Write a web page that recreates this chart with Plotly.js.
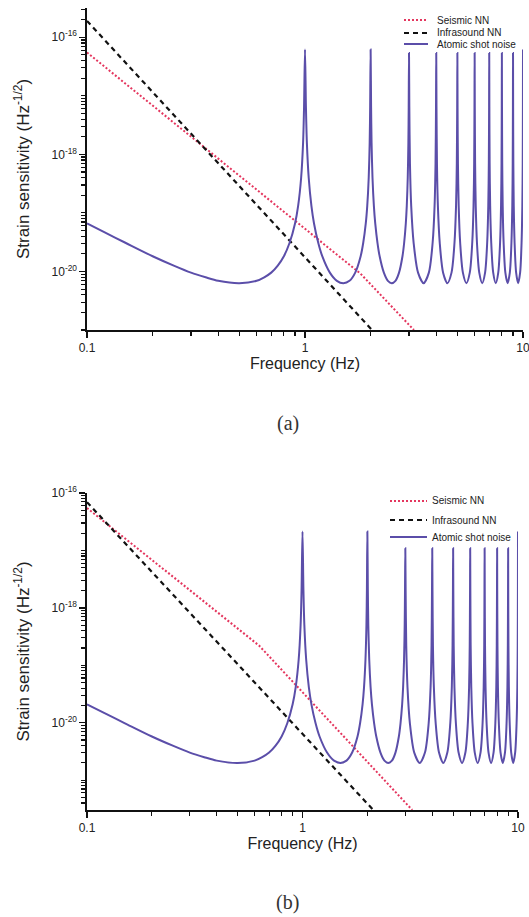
<!DOCTYPE html>
<html><head><meta charset="utf-8">
<script src="https://cdn.plot.ly/plotly-3.0.1.min.js"></script>
<style>html,body{margin:0;padding:0;background:#fff}#chart{width:529px;height:917px}</style>
</head><body><div id="chart"></div>
<script>
// ---------- data ----------
// frequency samples of the atomic shot-noise curve (Hz)
const shotFreq = [
  0.1,0.12,0.15,0.2,0.25,0.3,0.35,0.4,0.5,0.6,0.65,0.7,0.75,0.8,0.85,0.9,0.93,0.96,0.98,0.99,1,
  1.01,1.02,1.04,1.07,1.1,1.15,1.2,1.3,1.4,1.5,1.6,1.7,1.8,1.85,1.9,1.93,1.96,1.98,1.99,2,
  2.01,2.02,2.04,2.07,2.1,2.15,2.2,2.3,2.4,2.5,2.6,2.7,2.8,2.85,2.9,2.93,2.96,2.98,2.99,3,
  3.01,3.03,3.07,3.15,3.3,3.5,3.7,3.85,3.93,3.97,3.99,4,
  4.01,4.03,4.07,4.15,4.3,4.5,4.7,4.85,4.93,4.97,4.99,5,
  5.01,5.03,5.07,5.15,5.3,5.5,5.7,5.85,5.93,5.97,5.99,6,
  6.01,6.03,6.07,6.15,6.3,6.5,6.7,6.85,6.93,6.97,6.99,7,
  7.01,7.03,7.07,7.15,7.3,7.5,7.7,7.85,7.93,7.97,7.99,8,
  8.01,8.03,8.07,8.15,8.3,8.5,8.7,8.85,8.93,8.97,8.99,9,
  9.01,9.03,9.07,9.15,9.3,9.5,9.7,9.85,9.93,9.97,9.99,10
];
// panel (a) atomic shot noise, log10 of strain sensitivity
const shotA_log10 = [
  -19.18,-19.33,-19.51,-19.74,-19.90,-20.02,-20.10,-20.16,-20.20,-20.16,-20.10,-20.02,-19.90,-19.74,-19.51,-19.18,-18.88,-18.40,-17.80,-17.19,-16.21,
  -17.19,-17.80,-18.40,-18.88,-19.18,-19.51,-19.74,-20.02,-20.16,-20.20,-20.16,-20.02,-19.74,-19.51,-19.18,-18.88,-18.40,-17.80,-17.19,-16.21,
  -17.19,-17.80,-18.40,-18.88,-19.18,-19.51,-19.74,-20.02,-20.16,-20.20,-20.16,-20.02,-19.74,-19.51,-19.18,-18.88,-18.40,-17.80,-17.19,-16.27,
  -17.19,-18.15,-18.88,-19.51,-20.02,-20.20,-20.02,-19.51,-18.88,-18.15,-17.19,-16.27,
  -17.19,-18.15,-18.88,-19.51,-20.02,-20.20,-20.02,-19.51,-18.88,-18.15,-17.19,-16.27,
  -17.19,-18.15,-18.88,-19.51,-20.02,-20.20,-20.02,-19.51,-18.88,-18.15,-17.19,-16.27,
  -17.19,-18.15,-18.88,-19.51,-20.02,-20.20,-20.02,-19.51,-18.88,-18.15,-17.19,-16.27,
  -17.19,-18.15,-18.88,-19.51,-20.02,-20.20,-20.02,-19.51,-18.88,-18.15,-17.19,-16.27,
  -17.19,-18.15,-18.88,-19.51,-20.02,-20.20,-20.02,-19.51,-18.88,-18.15,-17.19,-16.27,
  -17.19,-18.15,-18.88,-19.51,-20.02,-20.20,-20.02,-19.51,-18.88,-18.15,-17.19,-16.21
];
// panel (b) atomic shot noise, log10 of strain sensitivity
const shotB_log10 = [
  -19.68,-19.83,-20.01,-20.24,-20.40,-20.52,-20.60,-20.66,-20.70,-20.66,-20.60,-20.52,-20.40,-20.24,-20.01,-19.68,-19.38,-18.90,-18.30,-17.69,-16.67,
  -17.69,-18.30,-18.90,-19.38,-19.68,-20.01,-20.24,-20.52,-20.66,-20.70,-20.66,-20.52,-20.24,-20.01,-19.68,-19.38,-18.90,-18.30,-17.69,-16.67,
  -17.69,-18.30,-18.90,-19.38,-19.68,-20.01,-20.24,-20.52,-20.66,-20.70,-20.66,-20.52,-20.24,-20.01,-19.68,-19.38,-18.90,-18.30,-17.69,-16.96,
  -17.69,-18.65,-19.38,-20.01,-20.52,-20.70,-20.52,-20.01,-19.38,-18.65,-17.69,-16.96,
  -17.69,-18.65,-19.38,-20.01,-20.52,-20.70,-20.52,-20.01,-19.38,-18.65,-17.69,-16.96,
  -17.69,-18.65,-19.38,-20.01,-20.52,-20.70,-20.52,-20.01,-19.38,-18.65,-17.69,-16.96,
  -17.69,-18.65,-19.38,-20.01,-20.52,-20.70,-20.52,-20.01,-19.38,-18.65,-17.69,-16.96,
  -17.69,-18.65,-19.38,-20.01,-20.52,-20.70,-20.52,-20.01,-19.38,-18.65,-17.69,-16.96,
  -17.69,-18.65,-19.38,-20.01,-20.52,-20.70,-20.52,-20.01,-19.38,-18.65,-17.69,-16.96,
  -17.69,-18.65,-19.38,-20.01,-20.52,-20.70,-20.52,-20.01,-19.38,-18.65,-17.69,-16.67
];
// Newtonian-noise power laws (breakpoints)
const seismicA_freq = [0.1, 1.8, 3.16];
const seismicA_log10 = [-16.26, -20.04, -21.0];
const infraA_freq = [0.1, 2.03];
const infraA_log10 = [-15.72, -21.0];
const seismicB_freq = [0.1, 0.63, 3.23];
const seismicB_log10 = [-16.26, -18.66, -21.52];
const infraB_freq = [0.1, 2.13];
const infraB_log10 = [-16.16, -21.52];

const seriesNames = ['Seismic NN', 'Infrasound NN', 'Atomic shot noise'];
const yLabelExp = [-20, -18, -16];
const yLabelText = ['10<sup>-20</sup>', '10<sup>-18</sup>', '10<sup>-16</sup>'];
const xMajorVals = [0.1, 1, 10];
const xMajorText = ['0.1', '1', '10'];
const panelLabels = ['(a)', '(b)'];

// ---------- styling ----------
const W = 529, H = 917;
const C_RED = '#e4365e', C_BLK = '#111111', C_BLUE = '#5b4ea9';
const FONT = 'Liberation Sans, Arial, sans-serif';
const pow10 = a => a.map(v => Math.pow(10, v));
const px = x => x / W, py = y => 1 - y / H;

const styles = [
  {color: C_RED, width: 2, dash: '2px,2px'},
  {color: C_BLK, width: 2.2, dash: '5px,4px'},
  {color: C_BLUE, width: 2, dash: 'solid'}
];

function tr(x, ylog, i, xa, ya, smooth) {
  const line = Object.assign({}, styles[i]);
  if (smooth) { line.shape = 'spline'; line.smoothing = 0.8; }
  return {x: x, y: pow10(ylog), type: 'scatter', mode: 'lines', name: seriesNames[i],
          xaxis: xa, yaxis: ya, line: line, showlegend: false, hoverinfo: 'skip'};
}
const data = [
  tr(seismicA_freq, seismicA_log10, 0, 'x', 'y'),
  tr(infraA_freq, infraA_log10, 1, 'x', 'y'),
  tr(shotFreq, shotA_log10, 2, 'x', 'y', true),
  tr(seismicB_freq, seismicB_log10, 0, 'x2', 'y2'),
  tr(infraB_freq, infraB_log10, 1, 'x2', 'y2'),
  tr(shotFreq, shotB_log10, 2, 'x2', 'y2', true)
];

// minor ticks (unlabelled decades and 2..9 subdivisions)
const yMinor = [];
for (let e = -22; e <= -15; e++) {
  if (e % 2 !== 0) yMinor.push(Math.pow(10, e));
  for (let m = 2; m <= 9; m++) yMinor.push(m * Math.pow(10, e));
}
const xMinor = [];
for (let e = -2; e <= 1; e++) for (let m = 2; m <= 9; m++) xMinor.push(m * Math.pow(10, e));

function xAxis(dom, anchor) {
  return {type: 'log', range: [-1, 1], domain: dom, anchor: anchor,
    showline: true, linecolor: '#111', linewidth: 1.6, showgrid: false, zeroline: false,
    ticks: 'outside', ticklen: 6, tickwidth: 1.4, tickcolor: '#111',
    tickmode: 'array', tickvals: xMajorVals, ticktext: xMajorText, ticklabeloverflow: 'allow',
    tickfont: {family: FONT, size: 12, color: '#222'},
    minor: {tickmode: 'array', tickvals: xMinor, ticks: 'outside', ticklen: 4, tickwidth: 1.2, tickcolor: '#111', showgrid: false},
    title: {text: 'Frequency (Hz)', font: {family: FONT, size: 16, color: '#222'}, standoff: 3},
    automargin: false, fixedrange: true};
}
function yAxis(dom, anchor, rng) {
  return {type: 'log', range: rng, domain: dom, anchor: anchor,
    showline: true, linecolor: '#111', linewidth: 1.6, showgrid: false, zeroline: false,
    ticks: 'outside', ticklen: 6, tickwidth: 1.4, tickcolor: '#111',
    tickmode: 'array', tickvals: pow10(yLabelExp), ticktext: yLabelText,
    tickfont: {family: FONT, size: 12, color: '#222'},
    minor: {tickmode: 'array', tickvals: yMinor, ticks: 'outside', ticklen: 4, tickwidth: 1.1, tickcolor: '#111', showgrid: false},
    title: {text: 'Strain sensitivity (Hz<sup>-1/2</sup>)', font: {family: FONT, size: 17, color: '#222'}, standoff: 17},
    automargin: false, fixedrange: true};
}

// legend drawn as line samples + text in each panel
const legendA = {x0: 404, x1: 428, tx: 435, ys: [20, 33, 44]};
const legendB = {x0: 390, x1: 427, tx: 430, ys: [501, 520, 537]};
const shapes = [], annotations = [];
[legendA, legendB].forEach(L => {
  L.ys.forEach((yy, i) => {
    shapes.push({type: 'line', xref: 'paper', yref: 'paper', x0: px(L.x0), x1: px(L.x1), y0: py(yy), y1: py(yy),
      line: {color: styles[i].color, width: styles[i].width, dash: styles[i].dash}});
    annotations.push({xref: 'paper', yref: 'paper', x: px(L.tx), y: py(yy), xanchor: 'left', yanchor: 'middle',
      text: seriesNames[i], showarrow: false, font: {family: FONT, size: 10, color: '#222'}});
  });
});
annotations.push({xref: 'paper', yref: 'paper', x: px(288), y: py(423), xanchor: 'center', yanchor: 'middle',
  text: panelLabels[0], showarrow: false, font: {family: 'Liberation Serif, serif', size: 20, color: '#333'}});
annotations.push({xref: 'paper', yref: 'paper', x: px(287), y: py(902), xanchor: 'center', yanchor: 'middle',
  text: panelLabels[1], showarrow: false, font: {family: 'Liberation Serif, serif', size: 20, color: '#333'}});

const layout = {
  width: W, height: H, margin: {l: 0, r: 0, t: 0, b: 0},
  paper_bgcolor: '#fff', plot_bgcolor: '#fff', showlegend: false,
  xaxis: xAxis([px(87), px(523)], 'y'),
  yaxis: yAxis([py(330), py(8)], 'x', [-21, -15.5]),
  xaxis2: xAxis([px(87), px(518)], 'y2'),
  yaxis2: yAxis([py(810), py(493)], 'x2', [-21.52, -16]),
  shapes: shapes, annotations: annotations
};
Plotly.newPlot('chart', data, layout, {displayModeBar: false, staticPlot: true});
</script></body></html>
